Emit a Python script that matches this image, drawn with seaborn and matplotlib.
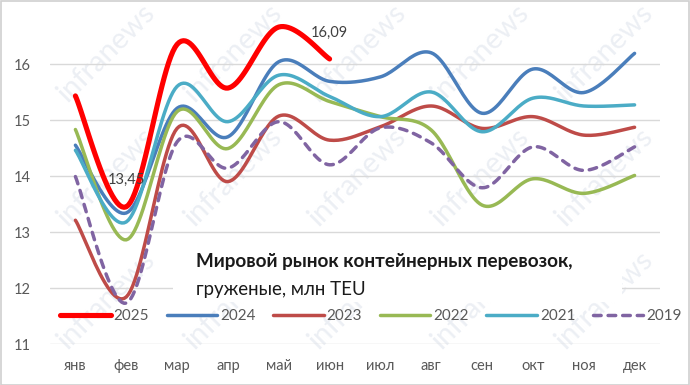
import numpy as np
import pandas as pd
import seaborn as sns
import matplotlib.pyplot as plt
from matplotlib.patches import Rectangle

months = ['янв', 'фев', 'мар', 'апр', 'май', 'июн', 'июл', 'авг', 'сен', 'окт', 'ноя', 'дек']
y2025 = [15.43, 13.45, 16.35, 15.57, 16.66, 16.09]
y2024 = [14.55, 13.34, 15.21, 14.70, 16.04, 15.69, 15.77, 16.20, 15.12, 15.91, 15.49, 16.19]
y2023 = [13.21, 11.84, 14.85, 13.90, 15.07, 14.64, 14.88, 15.25, 14.85, 15.06, 14.73, 14.87]
y2022 = [14.83, 12.86, 15.15, 14.49, 15.63, 15.33, 15.06, 14.82, 13.48, 13.95, 13.69, 14.01]
y2021 = [14.46, 13.18, 15.60, 14.97, 15.80, 15.42, 15.06, 15.50, 14.79, 15.39, 15.25, 15.27]
y2019 = [13.99, 11.73, 14.61, 14.14, 14.97, 14.20, 14.86, 14.59, 13.79, 14.52, 14.10, 14.52]
yticks = [11, 12, 13, 14, 15, 16]
title_l1 = 'Мировой рынок контейнерных перевозок,'
title_l2 = 'груженые, млн TEU'
labels_2025 = {1: '13,45', 5: '16,09'}

series = [
    ('2025', y2025, '#FF0000', 3.7, '-'),
    ('2024', y2024, '#4A7EBB', 2.5, '-'),
    ('2023', y2023, '#BE4B48', 2.5, '-'),
    ('2022', y2022, '#98B954', 2.5, '-'),
    ('2021', y2021, '#4BACC6', 2.5, '-'),
    ('2019', y2019, '#8064A2', 2.5, '--'),
]


def smooth(vals, n=24):
    """Excel-like smoothed rendering (cubic Bezier through the points)."""
    p = np.array(vals, dtype=float)
    xs, ys = [], []
    m = len(p)
    for i in range(m - 1):
        prev_ = p[i - 1] if i > 0 else p[i]
        nxt = p[i + 2] if i + 2 < m else p[i + 1]
        xp = i - 1 if i > 0 else i
        xn = i + 2 if i + 2 < m else i + 1
        c1y = p[i] + (p[i + 1] - prev_) / 6
        c2y = p[i + 1] - (nxt - p[i]) / 6
        c1x = i + ((i + 1) - xp) / 6
        c2x = (i + 1) - (xn - i) / 6
        t = np.linspace(0, 1, n, endpoint=(i == m - 2))
        bx = (1 - t) ** 3 * i + 3 * (1 - t) ** 2 * t * c1x + 3 * (1 - t) * t ** 2 * c2x + t ** 3 * (i + 1)
        by = (1 - t) ** 3 * p[i] + 3 * (1 - t) ** 2 * t * c1y + 3 * (1 - t) * t ** 2 * c2y + t ** 3 * p[i + 1]
        xs.extend(bx)
        ys.extend(by)
    return np.array(xs), np.array(ys)


sns.set_theme(style='white')
plt.rcParams['font.family'] = ['Lato', 'DejaVu Sans']

W, H = 690, 385
fig = plt.figure(figsize=(W / 100, H / 100), dpi=100)
ax = fig.add_axes([50 / W, 1 - 344 / H, 610 / W, 336 / H])
ax.set_zorder(1)

for y in yticks:
    ax.axhline(y, color='#d9d9d9', lw=1.0, zorder=1)

# watermarks (behind the plot)
for cx in [106, 233, 357, 480, 604]:
    for cy in [53, 177, 300]:
        fig.text(cx / W, 1 - cy / H, 'infranews', rotation=45, fontsize=21,
                 color='#eceff4', ha='center', va='center', zorder=0)

# white box behind the title text
ax.add_patch(Rectangle((173 / W, 1 - 302 / H), (622 - 173) / W, 58 / H,
                       transform=fig.transFigure, facecolor='white',
                       edgecolor='none', zorder=1.5))

for name, vals, col, lw, ls in series:
    xs, ys = smooth(vals)
    df = pd.DataFrame({'x': xs, 'y': ys})
    sns.lineplot(data=df, x='x', y='y', ax=ax, sort=False, estimator=None,
                 color=col, lw=lw, zorder=3, label=name)
    line = ax.lines[-1]
    line.set_solid_capstyle('round')
    if ls == '--':
        line.set_dashes((2.2, 2.0))
        line.set_dash_capstyle('round')

for i, txt in labels_2025.items():
    ax.annotate(txt, (i, y2025[i]), xytext=(0, 14), textcoords='offset points',
                ha='center', va='bottom', fontsize=10.5, color='#404040', zorder=4)

ax.set_xlim(-0.5, 11.5)
ax.set_ylim(11, 17)
ax.set_xticks(range(12))
ax.set_xticklabels(months)
ax.set_yticks(yticks)
ax.set_yticklabels([str(v) for v in yticks])
ax.tick_params(axis='both', length=0, labelsize=10.5, labelcolor='#595959')
ax.tick_params(axis='y', pad=14)
ax.tick_params(axis='x', pad=11)
ax.set_xlabel('')
ax.set_ylabel('')
for s in ax.spines.values():
    s.set_visible(False)
ax.set_facecolor('none')

leg = ax.get_legend()
h, l = ax.get_legend_handles_labels()
leg.remove()
fig.legend(h, l, loc='center', bbox_to_anchor=(371 / W, 1 - 316 / H), ncol=6,
           frameon=False, fontsize=11, handlelength=3.3, handletextpad=0.2,
           columnspacing=1.15, labelcolor='#595959')

fig.text(196 / W, 1 - 262 / H, title_l1, fontsize=13.6, fontweight='bold',
         color='#1a1a1a', ha='left', va='center', zorder=5)
fig.text(196 / W, 1 - 289 / H, title_l2, fontsize=13.4,
         color='#1a1a1a', ha='left', va='center', zorder=5)

fig.patches.append(Rectangle((0.5 / W, 0.5 / H), 1 - 1.5 / W, 1 - 1.5 / H,
                             transform=fig.transFigure, fill=False,
                             edgecolor='#d0d0d0', lw=1.2))

fig.savefig('out.png', dpi=100)
